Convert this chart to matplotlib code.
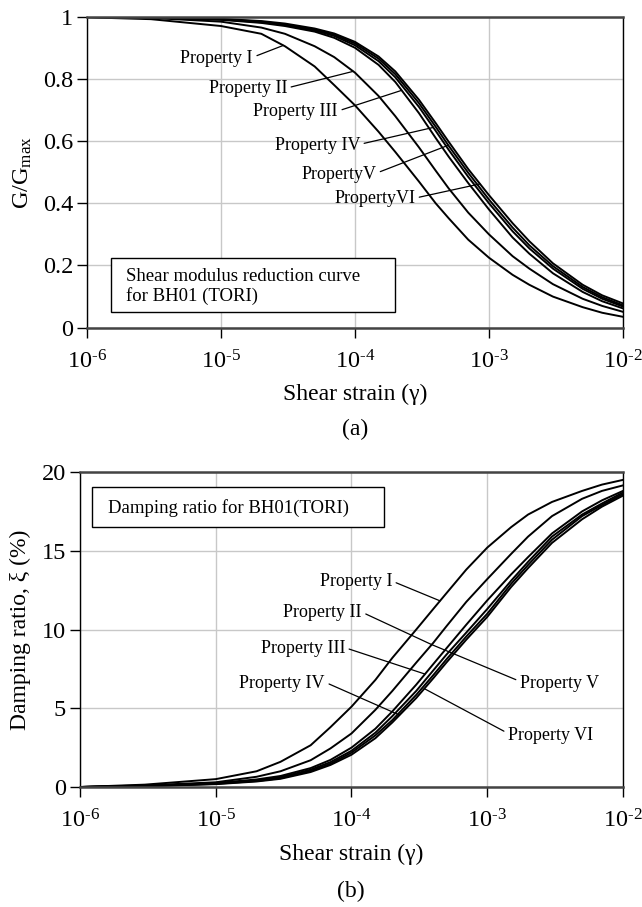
import numpy as np
import matplotlib
matplotlib.use("Agg")
from matplotlib import pyplot as plt
from matplotlib.patches import Rectangle

plt.rcParams['font.family'] = ['Liberation Serif', 'DejaVu Serif']
plt.rcParams['mathtext.fontset'] = 'custom'
plt.rcParams['mathtext.rm'] = 'Liberation Serif'
plt.rcParams['mathtext.it'] = 'Liberation Serif:italic'

# shear strain points
strain = [1e-6, 3e-6, 1e-5, 2e-5, 3e-5, 5e-5, 7e-5, 1e-4, 1.5e-4, 2e-4, 3e-4,
          4e-4, 5e-4, 7e-4, 1e-3, 1.5e-3, 2e-3, 3e-3, 5e-3, 7e-3, 1e-2]

# (a) G/Gmax, curves from left to right
g1 = [0.998, 0.992, 0.97, 0.945, 0.905, 0.84, 0.78, 0.715, 0.63, 0.565, 0.47,
      0.40, 0.352, 0.283, 0.225, 0.17, 0.138, 0.10, 0.066, 0.048, 0.035]
g2 = [0.999, 0.996, 0.984, 0.965, 0.945, 0.905, 0.87, 0.82, 0.745, 0.68, 0.58,
      0.505, 0.448, 0.37, 0.30, 0.23, 0.19, 0.14, 0.093, 0.07, 0.051]
g3 = [0.999, 0.997, 0.99, 0.98, 0.97, 0.952, 0.932, 0.90, 0.845, 0.79, 0.69,
      0.61, 0.55, 0.465, 0.38, 0.29, 0.238, 0.175, 0.115, 0.085, 0.062]
g4 = [0.999, 0.998, 0.991, 0.982, 0.973, 0.956, 0.938, 0.908, 0.857, 0.805, 0.71,
      0.633, 0.572, 0.485, 0.40, 0.31, 0.255, 0.19, 0.125, 0.093, 0.068]
g5 = [0.999, 0.998, 0.992, 0.984, 0.975, 0.959, 0.942, 0.914, 0.865, 0.815, 0.722,
      0.646, 0.585, 0.498, 0.412, 0.322, 0.265, 0.198, 0.131, 0.098, 0.072]
g6 = [0.999, 0.998, 0.993, 0.986, 0.978, 0.962, 0.946, 0.919, 0.872, 0.824, 0.733,
      0.658, 0.598, 0.51, 0.426, 0.336, 0.278, 0.207, 0.138, 0.104, 0.078]

# (b) damping ratio (%), curves from left to right
d1 = [0.0, 0.15, 0.5, 1.0, 1.6, 2.65, 3.8, 5.1, 6.8, 8.2, 10.0,
      11.3, 12.3, 13.8, 15.2, 16.5, 17.3, 18.1, 18.8, 19.2, 19.5]
d2 = [0.0, 0.1, 0.3, 0.65, 1.0, 1.7, 2.45, 3.4, 4.9, 6.1, 7.9,
      9.15, 10.2, 11.75, 13.2, 14.8, 15.9, 17.2, 18.3, 18.8, 19.15]
d3 = [0.0, 0.07, 0.25, 0.48, 0.7, 1.2, 1.72, 2.5, 3.7, 4.8, 6.5,
      7.8, 8.8, 10.3, 11.85, 13.5, 14.6, 16.1, 17.5, 18.2, 18.8]
d4 = [0.0, 0.06, 0.22, 0.42, 0.62, 1.1, 1.58, 2.3, 3.45, 4.5, 6.1,
      7.4, 8.4, 9.8, 11.3, 13.1, 14.3, 15.9, 17.3, 18.0, 18.7]
d5 = [0.0, 0.05, 0.2, 0.38, 0.56, 1.02, 1.48, 2.18, 3.28, 4.25, 5.85,
      7.1, 8.1, 9.55, 11.0, 12.9, 14.1, 15.7, 17.2, 17.9, 18.6]
d6 = [0.0, 0.05, 0.18, 0.35, 0.52, 0.95, 1.4, 2.05, 3.1, 4.1, 5.65,
      6.9, 7.9, 9.35, 10.8, 12.7, 13.9, 15.5, 17.0, 17.8, 18.5]

labels_a = ['Property I', 'Property II', 'Property III', 'Property IV', 'PropertyV', 'PropertyVI']
labels_b = ['Property I', 'Property II', 'Property III', 'Property IV', 'Property V', 'Property VI']

x_ticks = [1e-6, 1e-5, 1e-4, 1e-3, 1e-2]
x_exps = ['6', '5', '4', '3', '2']
ya_ticks = [0, 0.2, 0.4, 0.6, 0.8, 1]
ya_ticklabels = ['0', '0.2', '0.4', '0.6', '0.8', '1']
yb_ticks = [0, 5, 10, 15, 20]

HYPH = '\u2010'  # short hyphen in the exponent, like the original


def on_curve(curve, g):
    # height of a curve at strain g (for leader line ends)
    return np.interp(np.log10(g), np.log10(strain), curve)


def style_axes(ax, yticks, yticklabels):
    ax.set_xscale('log')
    ax.set_xlim(1e-6, 1e-2)
    ax.set_xticks(x_ticks)
    ax.set_xticklabels(['$10^{' + HYPH + e + '}$' for e in x_exps])
    ax.xaxis.set_minor_locator(matplotlib.ticker.NullLocator())
    ax.set_yticks(yticks)
    ax.set_yticklabels(yticklabels)
    ax.grid(True, color='#c8c8c8', lw=1.0)
    ax.set_axisbelow(True)
    ax.tick_params(direction='out', length=7, width=1.0, labelsize=17.5, pad=3,
                   top=False, right=False)
    ax.tick_params(axis='x', pad=9)
    for s in ['left', 'right']:
        ax.spines[s].set_linewidth(1.0)
        ax.spines[s].set_color('black')
    for s in ['top', 'bottom']:
        ax.spines[s].set_linewidth(1.8)
        ax.spines[s].set_color('#444444')
    ax.set_xlabel('Shear strain (γ)', fontsize=17, labelpad=8)


fig = plt.figure(figsize=(6.42, 9.07), dpi=100)

# ---- (a) shear modulus reduction ----
ax1 = fig.add_axes([0.1355, 0.6387, 0.8349, 0.3429])
for g in [g1, g2, g3, g4, g5, g6]:
    ax1.plot(strain, g, color='black', lw=1.4)
style_axes(ax1, ya_ticks, ya_ticklabels)
ax1.set_ylim(0, 1)
ax1.set_ylabel('G/G$_{\\mathrm{max}}$', fontsize=17.5, labelpad=6)

text_pos_a = [(1.73e-5, 0.867), (3.11e-5, 0.768), (7.46e-5, 0.694),
              (1.09e-4, 0.587), (1.44e-4, 0.494), (2.81e-4, 0.414)]
end_a = [(g1, 2.92e-5), (g2, 9.7e-5), (g3, 2.23e-4),
         (g4, 3.84e-4), (g5, 4.97e-4), (g6, 8.57e-4)]
for lab, (tx, ty), (crv, ex) in zip(labels_a, text_pos_a, end_a):
    ax1.annotate(lab, xy=(ex, on_curve(crv, ex)), xytext=(tx, ty),
                 ha='right', va='center', fontsize=13,
                 arrowprops=dict(arrowstyle='-', lw=0.9, color='black',
                                 relpos=(1, 0.55), shrinkA=1, shrinkB=0))

ax1.add_patch(Rectangle((0.0448, 0.0505), 0.5298, 0.1736, transform=ax1.transAxes,
                        facecolor='white', edgecolor='black', lw=1.0, zorder=5))
ax1.text(0.0728, 0.131, 'Shear modulus reduction curve\nfor BH01 (TORI)',
         transform=ax1.transAxes, ha='left', va='center', fontsize=13.5,
         linespacing=1.15, zorder=6)

fig.text(0.553, 0.526, '(a)', ha='center', va='center', fontsize=17)

# ---- (b) damping ratio ----
ax2 = fig.add_axes([0.1246, 0.1323, 0.8458, 0.3473])
for d in [d1, d2, d3, d4, d5, d6]:
    ax2.plot(strain, d, color='black', lw=1.4)
style_axes(ax2, yb_ticks, [str(v) for v in yb_ticks])
ax2.set_ylim(0, 20)
ax2.set_ylabel('Damping ratio, ξ (%)', fontsize=17, labelpad=8)

text_pos_b = [(1.99e-4, 13.02, 'right'), (1.19e-4, 11.05, 'right'),
              (8.96e-5, 8.79, 'right'), (6.38e-5, 6.60, 'right'),
              (1.74e-3, 6.60, 'left'), (1.42e-3, 3.30, 'left')]
end_b = [(d1, 4.49e-4), (d2, 3.9e-4), (d3, 3.48e-4),
         (d6, 2.26e-4), (d2, 3.9e-4), (d6, 3.44e-4)]
for lab, (tx, ty, ha), (crv, ex) in zip(labels_b, text_pos_b, end_b):
    rp = (1, 0.55) if ha == 'right' else (0, 0.6)
    ax2.annotate(lab, xy=(ex, on_curve(crv, ex)), xytext=(tx, ty),
                 ha=ha, va='center', fontsize=13,
                 arrowprops=dict(arrowstyle='-', lw=0.9, color='black',
                                 relpos=rp, shrinkA=1, shrinkB=0))

ax2.add_patch(Rectangle((0.0221, 0.825), 0.5378, 0.127, transform=ax2.transAxes,
                        facecolor='white', edgecolor='black', lw=1.0, zorder=5))
ax2.text(0.0516, 0.886, 'Damping ratio for BH01(TORI)', transform=ax2.transAxes,
         ha='left', va='center', fontsize=13.5, zorder=6)

fig.text(0.547, 0.017, '(b)', ha='center', va='center', fontsize=17)

fig.savefig('out.png', dpi=100)
